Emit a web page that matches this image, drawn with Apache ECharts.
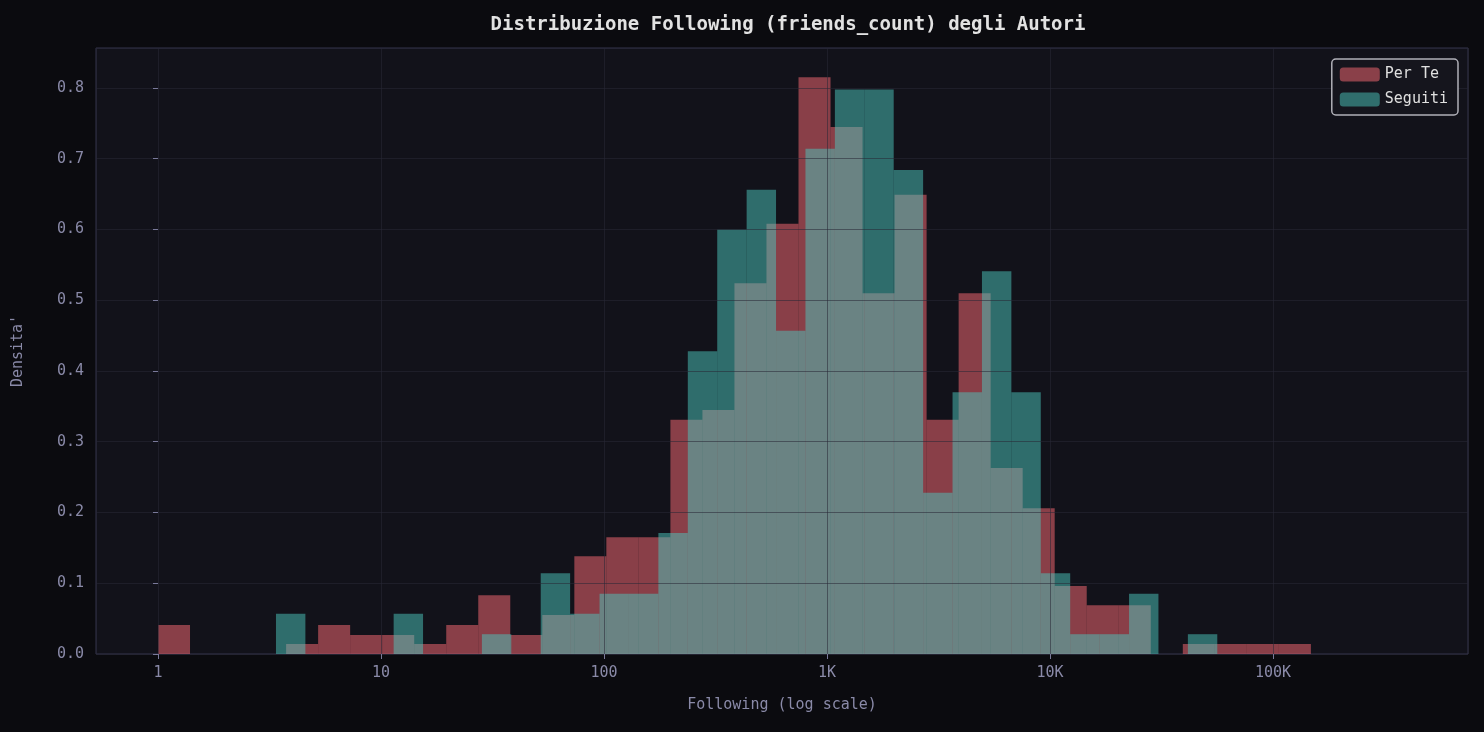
<!DOCTYPE html>
<html>
<head>
<meta charset="UTF-8">
<title>Distribuzione Following</title>
<script src="https://cdn.jsdelivr.net/npm/echarts@6/dist/echarts.min.js"></script>
<style>
  html, body { margin: 0; background: #0b0b0f; }
  #chart { width: 1484px; height: 732px; }
</style>
</head>
<body>
<div id="chart"></div>
<script>
// bins are in log10(following); each histogram uses its own equal-width bins
var perTeStart = 0.0, perTeStep = 0.1436;
var perTeDensity = [0.041, 0, 0, 0, 0.014, 0.041, 0.027, 0.027, 0.014, 0.041, 0.083, 0.027,
    0.055, 0.138, 0.165, 0.165, 0.331, 0.345, 0.524, 0.608, 0.815, 0.745, 0.510, 0.649,
    0.331, 0.510, 0.263, 0.206, 0.096, 0.069, 0.069, 0, 0.014, 0.014, 0.014, 0.014];

var seguitiStart = 0.529, seguitiStep = 0.1319;
var seguitiDensity = [0.057, 0, 0, 0, 0.057, 0, 0, 0.028, 0, 0.114, 0.057, 0.085,
    0.085, 0.171, 0.428, 0.600, 0.656, 0.457, 0.714, 0.798, 0.798, 0.684, 0.228, 0.370,
    0.541, 0.370, 0.114, 0.028, 0.028, 0.085, 0, 0.028];

var xTickLabels = {0: '1', 1: '10', 2: '100', 3: '1K', 4: '10K', 5: '100K'};

function toBins(start, step, dens) {
    var out = [];
    for (var i = 0; i < dens.length; i++) {
        if (dens[i] > 0) out.push([start + i * step, start + (i + 1) * step, dens[i]]);
    }
    return out;
}

function renderBar(params, api) {
    var p0 = api.coord([api.value(0), api.value(2)]);
    var p1 = api.coord([api.value(1), 0]);
    return {
        type: 'rect',
        shape: { x: p0[0], y: p0[1], width: p1[0] - p0[0], height: p1[1] - p0[1] },
        style: { fill: api.visual('color') }
    };
}

var mono = 'DejaVu Sans Mono';
var chart = echarts.init(document.getElementById('chart'));
chart.setOption({
    backgroundColor: '#0b0b0f',
    animation: false,
    title: {
        text: 'Distribuzione Following (friends_count) degli Autori',
        left: 783, top: 11, textAlign: 'center',
        textStyle: { color: '#e2e2e2', fontFamily: mono, fontSize: 19, fontWeight: 'bold' }
    },
    legend: {
        right: 26, top: 59, orient: 'vertical',
        itemWidth: 40, itemHeight: 14, itemGap: 10,
        padding: [8, 10, 8, 8],
        backgroundColor: '#15151d', borderColor: '#b0b0b8', borderWidth: 1.5, borderRadius: 4,
        textStyle: { color: '#e0e0e0', fontFamily: mono, fontSize: 15 },
        data: ['Per Te', 'Seguiti']
    },
    grid: {
        left: 96, right: 16, top: 48, bottom: 78,
        show: true, backgroundColor: '#12121a', borderColor: '#34344c', borderWidth: 1
    },
    xAxis: {
        type: 'value', min: -0.278, max: 5.874, z: 3,
        name: 'Following (log scale)', nameLocation: 'middle', nameGap: 44,
        nameTextStyle: { color: '#8a8aa8', fontFamily: mono, fontSize: 15 },
        axisLine: { show: false },
        axisTick: { show: true, length: 5, lineStyle: { color: '#7a7a9a' } },
        axisLabel: {
            color: '#8a8aa8', fontFamily: mono, fontSize: 15, margin: 12,
            showMinLabel: false, showMaxLabel: false,
            formatter: function (v) { return xTickLabels[v] !== undefined ? xTickLabels[v] : ''; }
        },
        splitLine: { show: true, lineStyle: { color: 'rgba(40,40,55,0.55)' } }
    },
    yAxis: {
        type: 'value', min: 0, max: 0.8565, interval: 0.1, z: 3,
        name: "Densita'", nameLocation: 'middle', nameGap: 70,
        nameTextStyle: { color: '#8a8aa8', fontFamily: mono, fontSize: 15 },
        axisLine: { show: false },
        axisTick: { show: true, length: 5, lineStyle: { color: '#7a7a9a' } },
        axisLabel: {
            color: '#8a8aa8', fontFamily: mono, fontSize: 15, margin: 12, showMaxLabel: false,
            formatter: function (v) { return v.toFixed(1); }
        },
        splitLine: { show: true, lineStyle: { color: 'rgba(40,40,55,0.55)' } }
    },
    series: [
        {
            name: 'Per Te', type: 'custom', renderItem: renderBar,
            itemStyle: { color: 'rgba(255,108,118,0.5)' },
            encode: { x: [0, 1], y: 2 },
            data: toBins(perTeStart, perTeStep, perTeDensity)
        },
        {
            name: 'Seguiti', type: 'custom', renderItem: renderBar,
            itemStyle: { color: 'rgba(76,200,190,0.5)' },
            encode: { x: [0, 1], y: 2 },
            data: toBins(seguitiStart, seguitiStep, seguitiDensity)
        }
    ]
});
</script>
</body>
</html>
